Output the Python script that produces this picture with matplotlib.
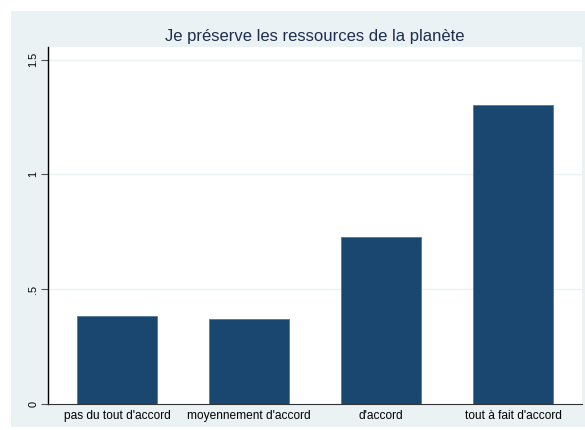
import matplotlib
matplotlib.use("Agg")
import matplotlib.pyplot as plt
from matplotlib.patches import Rectangle

# data
categories = ["pas du tout d'accord", "moyennement d'accord", "d'accord", "tout à fait d'accord"]
values = [0.384, 0.370, 0.726, 1.301]
yticks = [0, 0.5, 1, 1.5]
ytick_labels = ["0", ".5", "1", "1.5"]
title = "Je préserve les ressources de la planète"

plt.rcParams['font.family'] = ['Liberation Sans', 'DejaVu Sans']

W, H = 585, 430
fig = plt.figure(figsize=(W / 100, H / 100), dpi=100)
fig.patch.set_facecolor("white")
# stata-like graph region
fig.patches.append(Rectangle((11 / W, 3 / H), 1 - 11 / W, (H - 14) / H,
                             transform=fig.transFigure, facecolor="#EAF2F3",
                             edgecolor="none", zorder=-10))

ax = fig.add_axes([48 / W, (H - 404) / H, (582 - 48) / W, (404 - 47) / H])
ax.set_facecolor("white")

x = list(range(len(categories)))
ax.bar(x, values, width=0.607, color="#1A476F", edgecolor="#55799A", linewidth=0.6, zorder=3)

ax.set_xlim(-0.523, 3.523)
ax.set_ylim(0, 1.555)
ax.set_yticks(yticks)
ax.set_yticklabels(ytick_labels, rotation=90, va="center", fontsize=7.8)
ax.set_xticks(x)
ax.set_xticklabels(categories, fontsize=8.6)
ax.tick_params(axis="x", length=0, pad=4)
ax.tick_params(axis="y", length=5, width=0.8, color="#555555", pad=2)

for v in yticks[1:]:
    ax.axhline(v, color="#EAF2F3", linewidth=1, zorder=1)

for side in ["top", "right"]:
    ax.spines[side].set_visible(False)
ax.spines["left"].set_color("black")
ax.spines["left"].set_linewidth(1)
ax.spines["bottom"].set_color("#333333")
ax.spines["bottom"].set_linewidth(0.8)

fig.text((48 + 582) / 2 / W, (H - 37) / H, title, ha="center", va="center",
         fontsize=12, color="#1E2D4F")

fig.savefig("out.png", dpi=100)
